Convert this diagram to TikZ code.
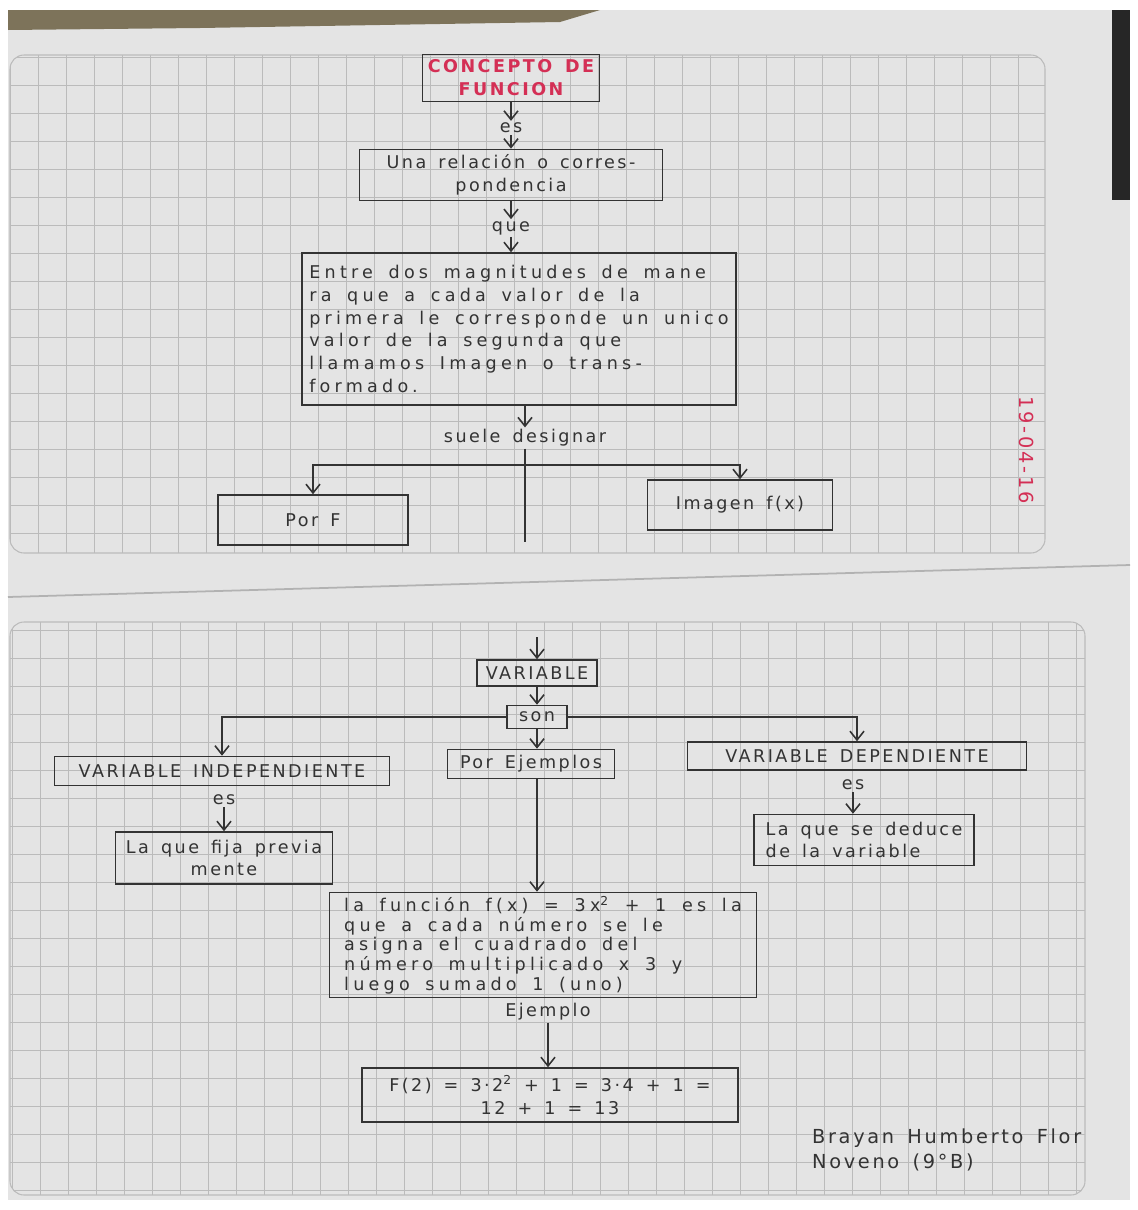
\documentclass[tikz,border=0pt]{standalone}
\usepackage{fontspec}
\setmainfont{DejaVu Sans}
\newfontfamily\hand[LetterSpace=14, WordSpace=1.5]{DejaVu Sans}
\newfontfamily\handwide[LetterSpace=24, WordSpace=1.6]{DejaVu Sans}
\usetikzlibrary{arrows.meta,positioning}
\definecolor{ink}{HTML}{333333}
\definecolor{redink}{HTML}{D42F55}
\definecolor{paper}{HTML}{E4E4E4}
\definecolor{gridline}{HTML}{BBBBBB}
\definecolor{desk}{HTML}{7D735A}
\newcommand{\handsize}{\fontsize{10}{13}\selectfont}

\begin{document}
\begin{tikzpicture}[x=0.02cm, y=-0.02cm,
        box/.style={rectangle, draw=ink, line width=0.9pt, font=\hand\handsize,
            text=ink, inner sep=3pt},
        word/.style={font=\hand\handsize, text=ink, inner sep=1pt},
        link/.style={line width=0.9pt, draw=ink, -{Straight Barb[length=5pt,width=8pt]}},
        bar/.style={line width=0.9pt, draw=ink},
    ]
        \useasboundingbox (0,0) rectangle (1137,1210);

        % Paper and desk
        \fill[white] (0,0) rectangle (1137,1210);
        \fill[paper] (8,10) rectangle (1130,1200);
        \fill[desk] (8,10) -- (600,10) -- (560,22) -- (200,28) -- (8,30) -- cycle;
        \fill[black!85] (1112,10) rectangle (1130,200);
        \begin{scope}
            \clip[rounded corners=8pt] (10,55) rectangle (1045,553);
            \foreach \gx in {10,38,...,1045} {
                \draw[gridline, line width=0.5pt] (\gx,55) -- (\gx,553);
            }
            \foreach \gy in {57,85,...,553} {
                \draw[gridline, line width=0.5pt] (10,\gy) -- (1045,\gy);
            }
        \end{scope}
        \draw[gridline, line width=0.6pt, rounded corners=8pt] (10,55) rectangle (1045,553);
        \draw[gray!60, line width=1pt] (8,597) -- (1130,565);
        \begin{scope}
            \clip[rounded corners=8pt] (10,622) rectangle (1085,1195);
            \foreach \gx in {12,40,...,1085} {
                \draw[gridline, line width=0.5pt] (\gx,622) -- (\gx,1195);
            }
            \foreach \gy in {630,658,...,1195} {
                \draw[gridline, line width=0.5pt] (10,\gy) -- (1085,\gy);
            }
        \end{scope}
        \draw[gridline, line width=0.6pt, rounded corners=8pt] (10,622) rectangle (1085,1195);

        % Upper page
        \node[box, text=redink, font=\hand\handsize\bfseries, minimum width=3.54cm,
            minimum height=0.86cm, align=center] (concepto) at (511,78) {CONCEPTO DE\\FUNCION};
        \node[word] (es1) at (511,128) {es};
        \node[box, minimum width=6.06cm, minimum height=0.9cm, align=center]
            (relacion) at (511,175) {Una relación o corres-\\pondencia};
        \node[word] (que) at (511,228) {que};
        \node[box, minimum width=8.68cm, minimum height=3.04cm, align=left,
            font=\handwide\handsize] (definicion) at (519,329)
            {Entre dos magnitudes de mane\\ra que a cada valor de la\\primera le corresponde un unico\\valor de la segunda que\\llamamos Imagen o trans-\\formado.};
        \node[word] (suele) at (525,438) {suele designar};
        \coordinate (reparto) at (525,465);
        \coordinate (corte) at (525,542);
        \node[box, minimum width=3.8cm, minimum height=1cm] (porf) at (313,520) {Por F};
        \node[box, minimum width=3.7cm, minimum height=1cm] (imagen) at (740,505) {Imagen f(x)};
        \node[word, text=redink, font=\hand\fontsize{11}{13}\selectfont, rotate=-90]
            (fecha) at (1027,450) {19-04-16};

        \draw[link] (concepto) -- (es1);
        \draw[link] (es1) -- (relacion);
        \draw[link] (relacion) -- (que);
        \draw[link] (que) -- (que |- definicion.north);
        \draw[link] (suele |- definicion.south) -- (suele);
        \draw[bar] (suele) -- (corte);
        \draw[link] (reparto) -| (porf);
        \draw[link] (reparto) -| (imagen);

        % Lower page
        \coordinate (entrada) at (537,637);
        \node[box, minimum width=2.4cm, minimum height=0.52cm] (variable) at (537,673) {VARIABLE};
        \node[box, minimum width=1.2cm, minimum height=0.46cm] (son) at (537,717) {son};
        \node[box, minimum width=6.7cm, minimum height=0.58cm] (indep) at (222,771) {VARIABLE INDEPENDIENTE};
        \node[box, minimum width=3.34cm, minimum height=0.58cm] (ejemplos) at (531,764) {Por Ejemplos};
        \node[box, minimum width=6.78cm, minimum height=0.56cm] (dep) at (857,756) {VARIABLE DEPENDIENTE};
        \node[word] (es2) at (224,800) {es};
        \node[box, minimum width=4.34cm, minimum height=1.04cm, align=center]
            (fija) at (224,858) {La que fija previa\\mente};
        \node[word] (es3) at (853,785) {es};
        \node[box, minimum width=4.4cm, minimum height=1.02cm, align=left]
            (deduce) at (864,840) {La que se deduce\\de la variable};
        \node[box, minimum width=8.54cm, minimum height=2.1cm, inner sep=2pt, align=left,
            font=\handwide\fontsize{10}{11.2}\selectfont] (funcion) at (543,945)
            {la función f(x) = 3x\textsuperscript{2} + 1 es la\\que a cada número se le\\asigna el cuadrado del\\número multiplicado x 3 y\\luego sumado 1 (uno)};
        \node[word] (ejemplo) at (548,1012) {Ejemplo};
        \node[box, minimum width=7.52cm, minimum height=1.08cm, align=center]
            (calculo) at (550,1095) {F(2) = 3·2\textsuperscript{2} + 1 = 3·4 + 1 =\\12 + 1 = 13};
        \node[word, anchor=west, align=left, font=\hand\fontsize{11}{14}\selectfont]
            (firma) at (810,1150) {Brayan Humberto Flor\\Noveno (9°B)};

        \draw[link] (entrada) -- (variable);
        \draw[link] (variable) -- (son);
        \draw[link] (son.west) -| (indep);
        \draw[link] (son.east) -| (dep);
        \draw[link] (son) -- (son |- ejemplos.north);
        \draw[link] (son |- ejemplos.south) -- (son |- funcion.north);
        \draw[link] (es2) -- (fija);
        \draw[link] (es3) -- (es3 |- deduce.north);
        \draw[link] (ejemplo) -- (ejemplo |- calculo.north);
    \end{tikzpicture}
\end{document}
